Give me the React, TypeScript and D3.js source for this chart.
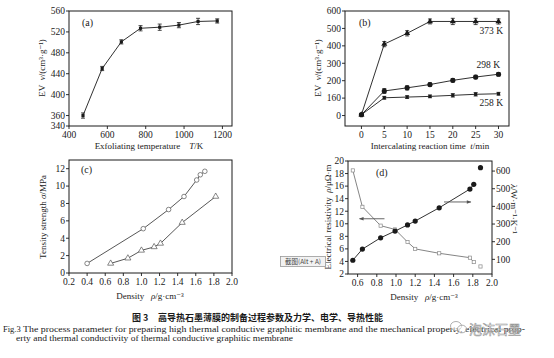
import React from "react";
import * as d3 from "d3";

// ---------- data ----------
// (a)
const tempsA = [473, 573, 673, 773, 873, 973, 1073, 1173];
const evA = [360, 450, 501, 527, 529, 533, 540, 541];
const errA = [5, 4, 4, 5, 6, 5, 6, 4];
const xTicksA = [400, 600, 800, 1000, 1200];
const yTicksA = [340, 360, 400, 440, 480, 520, 560];
// (b)
const timesB = [0, 5, 10, 15, 20, 25, 30];
const ev373 = [5, 410, 472, 540, 540, 540, 540];
const err373 = [5, 15, 15, 14, 18, 18, 15];
const ev298 = [5, 141, 159, 178, 202, 221, 237];
const err298 = [5, 14, 12, 10, 10, 10, 10];
const ev258 = [5, 102, 106, 110, 116, 122, 125];
const err258 = [5, 8, 8, 8, 10, 10, 8];
const seriesNamesB = ["373 K", "298 K", "258 K"];
const xTicksB = [0, 5, 10, 15, 20, 25, 30];
const yTicksB = [0, 100, 200, 300, 400, 500, 600];
const yTickLabelsB = ["0", "160", "200", "300", "400", "500", "600"];
// (c)
const rhoC1 = [0.4, 1.02, 1.3, 1.47, 1.61, 1.65, 1.7];
const sigC1 = [1.1, 5.1, 7.3, 8.8, 10.7, 11.3, 11.7];
const rhoC2 = [0.66, 0.85, 1.0, 1.14, 1.21, 1.45, 1.82];
const sigC2 = [1.1, 1.7, 2.6, 3.0, 3.4, 5.8, 8.8];
const xTicksC = [0.2, 0.4, 0.6, 0.8, 1.0, 1.2, 1.4, 1.6, 1.8, 2.0];
const yTicksC = [0, 2, 4, 6, 8, 10, 12];
// (d)
const rhoD = [0.55, 0.65, 0.84, 0.99, 1.12, 1.2, 1.45, 1.77, 1.81, 1.88];
const resD = [18.5, 12.7, 9.7, 9.1, 7.1, 6.0, 5.3, 4.6, 3.9, 3.2];
const lamD = [95, 158, 222, 260, 295, 317, 392, 498, 525, 619];
const xTicksD = [0.6, 0.8, 1.0, 1.2, 1.4, 1.6, 1.8, 2.0];
const yTicksDL = [2, 4, 6, 8, 10, 12, 14, 16, 18, 20];
const yTicksDR = [100, 200, 300, 400, 500, 600];
// arrows in (d): [rhoFrom, rhoTo, value]
const arrowRes = [0.88, 0.62, 10.8];
const arrowLam = [1.5, 1.78, 425];

// ---------- layout ----------
const W = 554, H = 358;
const PA = { x0: 69, x1: 232, y0: 11, y1: 126 };
const PB = { x0: 345, x1: 509, y0: 11, y1: 126 };
const PC = { x0: 69, x1: 232, y0: 160, y1: 273 };
const PD = { x0: 348, x1: 492, y0: 161, y1: 274 };

const serif = "'Liberation Serif','DejaVu Serif',serif";
const ink = "#1a1a1a";
const FS = 9;

type Sc = d3.ScaleLinear<number, number>;

function BottomAxis({ s, ticks, y, fmt }: { s: Sc; ticks: number[]; y: number; fmt: (v: number, i: number) => string }) {
  return (
    <g>
      {ticks.map((t, i) => (
        <g key={i}>
          <line x1={s(t)} x2={s(t)} y1={y} y2={y + 3} stroke={ink} strokeWidth={0.9} />
          <text x={s(t)} y={y + 12} textAnchor="middle" fontSize={FS + 0.5} fontFamily={serif} fill={ink}>
            {fmt(t, i)}
          </text>
        </g>
      ))}
    </g>
  );
}
function LeftAxis({ s, ticks, x, fmt }: { s: Sc; ticks: number[]; x: number; fmt: (v: number, i: number) => string }) {
  return (
    <g>
      {ticks.map((t, i) => (
        <g key={i}>
          <line x1={x - 3} x2={x} y1={s(t)} y2={s(t)} stroke={ink} strokeWidth={0.9} />
          <text x={x - 4} y={s(t) + 3.3} textAnchor="end" fontSize={FS + 0.5} fontFamily={serif} fill={ink}>
            {fmt(t, i)}
          </text>
        </g>
      ))}
    </g>
  );
}
function RightAxis({ s, ticks, x }: { s: Sc; ticks: number[]; x: number }) {
  return (
    <g>
      {ticks.map((t, i) => (
        <g key={i}>
          <line x1={x} x2={x + 3} y1={s(t)} y2={s(t)} stroke={ink} strokeWidth={0.9} />
          <text x={x + 4} y={s(t) + 3.3} textAnchor="start" fontSize={FS + 0.5} fontFamily={serif} fill={ink}>
            {t}
          </text>
        </g>
      ))}
    </g>
  );
}
function Box({ p }: { p: { x0: number; x1: number; y0: number; y1: number } }) {
  return <rect x={p.x0} y={p.y0} width={p.x1 - p.x0} height={p.y1 - p.y0} fill="none" stroke={ink} strokeWidth={1} />;
}
function ErrBar({ x, y0, y1 }: { x: number; y0: number; y1: number }) {
  return (
    <g stroke={ink} strokeWidth={0.8}>
      <line x1={x} x2={x} y1={y0} y2={y1} />
      <line x1={x - 2} x2={x + 2} y1={y0} y2={y0} />
      <line x1={x - 2} x2={x + 2} y1={y1} y2={y1} />
    </g>
  );
}

export default function App() {
  // scales
  const xa = d3.scaleLinear().domain([400, 1250]).range([PA.x0, PA.x1]);
  const ya = d3.scaleLinear().domain([340, 560]).range([PA.y1, PA.y0]);
  const xb = d3.scaleLinear().domain([-3.6, 32.3]).range([PB.x0, PB.x1]);
  const yb = d3.scaleLinear().domain([-60, 600]).range([PB.y1, PB.y0]);
  const xc = d3.scaleLinear().domain([0.2, 2.0]).range([PC.x0, PC.x1]);
  const yc = d3.scaleLinear().domain([0, 13]).range([PC.y1, PC.y0]);
  const xd = d3.scaleLinear().domain([0.5, 2.0]).range([PD.x0, PD.x1]);
  const ydl = d3.scaleLinear().domain([2, 20]).range([PD.y1, PD.y0]);
  const ydr = d3.scaleLinear().domain([17, 657]).range([PD.y1, PD.y0]);

  const line = (xs: number[], ys: number[], sx: Sc, sy: Sc) =>
    d3.line<number>().x((_, i) => sx(xs[i])).y((v) => sy(v))(ys) || "";

  const seriesB = [
    { v: ev373, e: err373, m: "tri" },
    { v: ev298, e: err298, m: "circ" },
    { v: ev258, e: err258, m: "sq" },
  ];
  const triPath = d3.symbol(d3.symbolTriangle, 16)() || "";
  const sqPath = d3.symbol(d3.symbolSquare, 10)() || "";

  const fmt1 = (v: number) => v.toFixed(1);
  const fmt0 = (v: number) => String(v);

  return (
    <svg width={W} height={H} style={{ position: "absolute", left: 0, top: 0, background: "#fff" }} fontFamily={serif}>
      <rect x={0} y={0} width={W} height={H} fill="#fff" />

      {/* ---------- (a) ---------- */}
      <Box p={PA} />
      <BottomAxis s={xa} ticks={xTicksA} y={PA.y1} fmt={fmt0} />
      <LeftAxis s={ya} ticks={yTicksA} x={PA.x0} fmt={fmt0} />
      <path d={line(tempsA, evA, xa, ya)} fill="none" stroke={ink} strokeWidth={0.9} />
      {tempsA.map((t, i) => (
        <g key={i}>
          <ErrBar x={xa(t)} y0={ya(evA[i] - errA[i])} y1={ya(evA[i] + errA[i])} />
          <path d={sqPath} transform={`translate(${xa(t)},${ya(evA[i])})`} fill={ink} />
        </g>
      ))}
      <text x={82} y={26} fontSize={10} fill={ink}>(a)</text>
      <text x={149} y={149} textAnchor="middle" fontSize={FS} fill={ink}>
        Exfoliating temperature{"\u00a0\u00a0\u00a0\u00a0"}<tspan fontStyle="italic">T</tspan>/K
      </text>
      <text transform={`translate(45,68) rotate(-90)`} textAnchor="middle" fontSize={FS} fill={ink}>
        EV{"\u00a0\u00a0"}<tspan fontStyle="italic">v</tspan>/(cm³·g⁻¹)
      </text>

      {/* ---------- (b) ---------- */}
      <Box p={PB} />
      <BottomAxis s={xb} ticks={xTicksB} y={PB.y1} fmt={fmt0} />
      <LeftAxis s={yb} ticks={yTicksB} x={PB.x0} fmt={(_, i) => yTickLabelsB[i]} />
      {seriesB.map((s, k) => (
        <g key={k}>
          <path d={line(timesB, s.v, xb, yb)} fill="none" stroke={ink} strokeWidth={0.9} />
          {timesB.map((t, i) => (
            <g key={i}>
              <ErrBar x={xb(t)} y0={yb(s.v[i] - s.e[i])} y1={yb(s.v[i] + s.e[i])} />
              {s.m === "tri" && <path d={triPath} transform={`translate(${xb(t)},${yb(s.v[i])})`} fill={ink} />}
              {s.m === "circ" && <circle cx={xb(t)} cy={yb(s.v[i])} r={2.6} fill={ink} />}
              {s.m === "sq" && <path d={sqPath} transform={`translate(${xb(t)},${yb(s.v[i])})`} fill={ink} />}
            </g>
          ))}
        </g>
      ))}
      <text x={503} y={34} textAnchor="end" fontSize={FS + 0.5} fill={ink}>{seriesNamesB[0]}</text>
      <text x={500} y={68} textAnchor="end" fontSize={FS + 0.5} fill={ink}>{seriesNamesB[1]}</text>
      <text x={503} y={106} textAnchor="end" fontSize={FS + 0.5} fill={ink}>{seriesNamesB[2]}</text>
      <text x={359} y={26} fontSize={10} fill={ink}>(b)</text>
      <text x={430} y={149} textAnchor="middle" fontSize={FS} fill={ink}>
        Intercalating reaction time{"\u00a0\u00a0"}<tspan fontStyle="italic">t</tspan>/min
      </text>
      <text transform={`translate(321,68) rotate(-90)`} textAnchor="middle" fontSize={FS} fill={ink}>
        EV{"\u00a0\u00a0"}<tspan fontStyle="italic">v</tspan>/(cm³·g⁻¹)
      </text>

      {/* ---------- (c) ---------- */}
      <Box p={PC} />
      <BottomAxis s={xc} ticks={xTicksC} y={PC.y1} fmt={fmt1} />
      <LeftAxis s={yc} ticks={yTicksC} x={PC.x0} fmt={fmt0} />
      <path d={line(rhoC1, sigC1, xc, yc)} fill="none" stroke="#444" strokeWidth={0.9} />
      <path d={line(rhoC2, sigC2, xc, yc)} fill="none" stroke="#444" strokeWidth={0.9} />
      {rhoC1.map((r, i) => (
        <circle key={i} cx={xc(r)} cy={yc(sigC1[i])} r={2.3} fill="#fff" stroke="#555" strokeWidth={0.7} />
      ))}
      {rhoC2.map((r, i) => (
        <path key={i} d={triPath} transform={`translate(${xc(r)},${yc(sigC2[i])})`} fill="#fff" stroke="#555" strokeWidth={0.7} />
      ))}
      <text x={81} y={173} fontSize={10} fill={ink}>(c)</text>
      <text x={150} y={299} textAnchor="middle" fontSize={FS} fill={ink}>
        Density{"\u00a0\u00a0\u00a0"}<tspan fontStyle="italic">ρ</tspan>/g·cm⁻³
      </text>
      <text transform={`translate(46,217) rotate(-90)`} textAnchor="middle" fontSize={FS} fill={ink}>
        Tensity strength <tspan fontStyle="italic">σ</tspan>/MPa
      </text>

      {/* ---------- (d) ---------- */}
      <Box p={PD} />
      <BottomAxis s={xd} ticks={xTicksD} y={PD.y1} fmt={fmt1} />
      <LeftAxis s={ydl} ticks={yTicksDL} x={PD.x0} fmt={fmt0} />
      <RightAxis s={ydr} ticks={yTicksDR} x={PD.x1} />
      <path d={line(rhoD.slice(0, -1), resD.slice(0, -1), xd, ydl)} fill="none" stroke="#777" strokeWidth={0.9} />
      <path d={line(rhoD.slice(0, -1), lamD.slice(0, -1), xd, ydr)} fill="none" stroke={ink} strokeWidth={0.9} />
      {rhoD.map((r, i) => (
        <rect key={"s" + i} x={xd(r) - 1.6} y={ydl(resD[i]) - 1.6} width={3.2} height={3.2} fill="#fff" stroke="#888" strokeWidth={0.7} />
      ))}
      {rhoD.map((r, i) => (
        <circle key={"c" + i} cx={xd(r)} cy={ydr(lamD[i])} r={2.6} fill={ink} />
      ))}
      <defs>
        <marker id="ah" viewBox="0 0 10 10" refX={9} refY={5} markerWidth={6} markerHeight={5} orient="auto">
          <path d="M0,1 L10,5 L0,9 Z" fill="#555" />
        </marker>
      </defs>
      <line x1={xd(arrowRes[0])} x2={xd(arrowRes[1])} y1={ydl(arrowRes[2])} y2={ydl(arrowRes[2])} stroke="#555" strokeWidth={0.9} markerEnd="url(#ah)" />
      <line x1={xd(arrowLam[0])} x2={xd(arrowLam[1])} y1={ydr(arrowLam[2])} y2={ydr(arrowLam[2])} stroke="#555" strokeWidth={0.9} markerEnd="url(#ah)" />
      <text x={376} y={176} fontSize={10} fill={ink}>(d)</text>
      <text x={424} y={300} textAnchor="middle" fontSize={FS} fill={ink}>
        Density{"\u00a0\u00a0\u00a0"}<tspan fontStyle="italic">ρ</tspan>/g·cm⁻³
      </text>
      <text transform={`translate(331,217) rotate(-90)`} textAnchor="middle" fontSize={FS} fill={ink}>
        Electrical resistivity{"\u00a0\u00a0"}<tspan fontStyle="italic">ρ</tspan>/μΩ·m
      </text>
      <text transform={`translate(511,209) rotate(90)`} textAnchor="middle" fontSize={FS} fill={ink}>
        <tspan fontStyle="italic">λ</tspan>/W·m⁻¹·K⁻¹
      </text>
      {/* screenshot tooltip overlay */}
      <rect x={280.5} y={256.5} width={45} height={10} fill="#f2f2f2" stroke="#9a9a9a" strokeWidth={0.8} />
      <text x={303} y={264} textAnchor="middle" fontSize={6.5} fontFamily="'Noto Sans CJK SC','Noto Sans',sans-serif" fill="#444">
        截图(Alt + A)
      </text>

      {/* ---------- caption ---------- */}
      <text x={132} y={321} fontSize={9} fontWeight="bold" fontFamily="'Noto Sans CJK SC',sans-serif" fill={ink}>图 3</text>
      <text x={158} y={321} fontSize={9} fontWeight="bold" fontFamily="'Noto Sans CJK SC',sans-serif" fill={ink} textLength={225} lengthAdjust="spacingAndGlyphs">
        高导热石墨薄膜的制备过程参数及力学、电学、导热性能
      </text>
      <text x={3} y={332} fontSize={8.5} fill={ink}>Fig.3</text>
      <text x={23} y={332} fontSize={8.5} fill={ink} textLength={502} lengthAdjust="spacingAndGlyphs">
        The process parameter for preparing high thermal conductive graphitic membrane and the mechanical property, electrical prop-
      </text>
      <text x={16} y={341} fontSize={8.5} fill={ink} textLength={277} lengthAdjust="spacingAndGlyphs">
        erty and thermal conductivity of thermal conductive graphitic membrane
      </text>
      {/* watermark */}
      <g stroke="#9a9a9a" strokeWidth={0.8} fill="#fff" fillOpacity={0.55}>
        <ellipse cx={456} cy={326} rx={5.5} ry={4.5} />
        <ellipse cx={462} cy={329} rx={4.5} ry={3.8} />
      </g>
      <text x={469} y={334} fontSize={13} fontFamily="'Noto Sans CJK SC',sans-serif" fill="#fff" fillOpacity={0.6} stroke="#9a9a9a" strokeWidth={0.6}>
        泡沫石墨
      </text>
    </svg>
  );
}
